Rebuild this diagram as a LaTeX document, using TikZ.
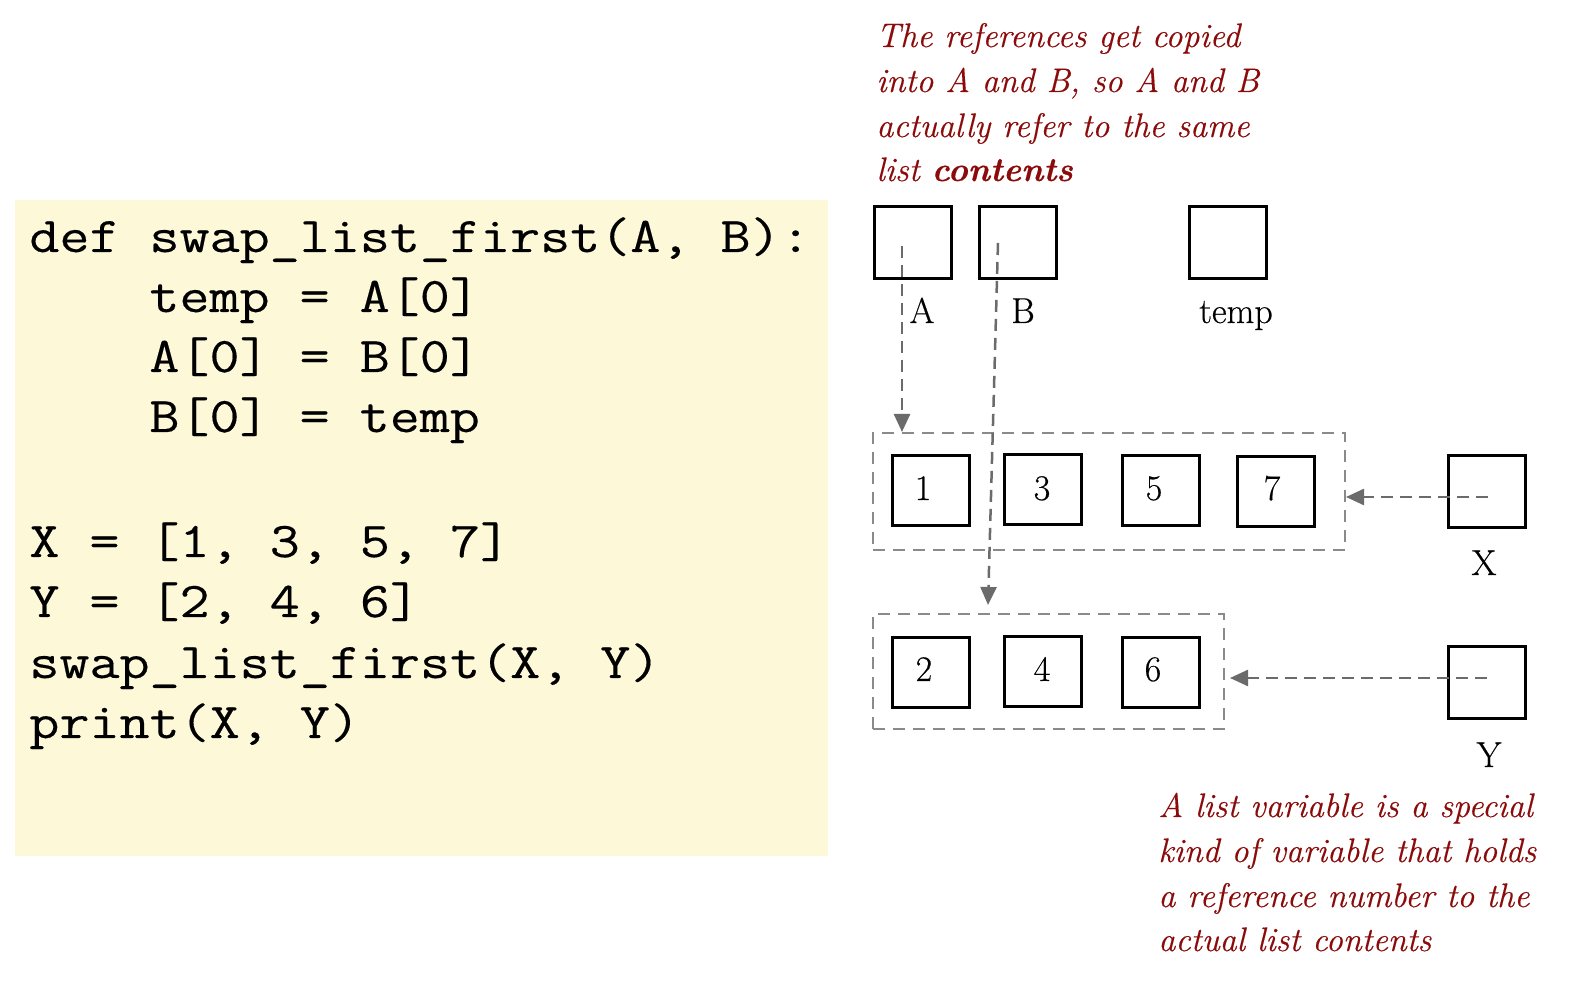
\documentclass[tikz,border=0pt]{standalone}
\usepackage{fontspec}
\setmainfont[FakeBold=0.4]{Latin Modern Roman}
\setmonofont[FakeStretch=1.167,FakeBold=0.3]{Latin Modern Mono}
\usetikzlibrary{arrows.meta,calc}
\definecolor{codebg}{HTML}{FDF8D8}
\definecolor{note}{HTML}{8B0A0A}
\definecolor{ptr}{HTML}{6B6B6B}
\definecolor{cont}{HTML}{8A8A8A}
\begin{document}
\begin{tikzpicture}[x=0.5pt,y=-0.5pt,
  cell/.style={draw=black, line width=1.5pt, minimum width=38.5pt, minimum height=36pt, inner sep=0pt},
  rowcell/.style={cell, minimum height=35pt},
  lbl/.style={font=\fontsize{18}{20}\selectfont, inner sep=0pt, anchor=base},
  codeline/.style={font=\ttfamily\fontsize{25}{30}\selectfont, inner sep=0pt, anchor=base west},
  noteline/.style={font=\itshape\fontsize{17}{22}\selectfont, text=note, inner sep=0pt, anchor=base west},
  container/.style={draw=cont, line width=1pt, dash pattern=on 6pt off 4pt, inner sep=0pt},
  pointer/.style={draw=ptr, line width=1.25pt, dash pattern=on 6pt off 3.5pt, -{Triangle[length=9pt,width=8pt]}},
]
\useasboundingbox (0,0) rectangle (1571,989);
\fill[codebg] (15,200) rectangle (828,856);

% code
\node[codeline] (c1) at (29,252) {def swap\_list\_first(A, B):};
\node[codeline] (c2) at (149,312) {temp = A[0]};
\node[codeline] (c3) at (149,372) {A[0] = B[0]};
\node[codeline] (c4) at (149,432) {B[0] = temp};
\node[codeline] (c5) at (29,557) {X = [1, 3, 5, 7]};
\node[codeline] (c6) at (29,617) {Y = [2, 4, 6]};
\node[codeline] (c7) at (29,678) {swap\_list\_first(X, Y)};
\node[codeline] (c8) at (29,738) {print(X, Y)};

% notes
\node[noteline] (t1) at (876,47) {The references get copied};
\node[noteline] (t2) at (876,92) {into A and B, so A and B};
\node[noteline] (t3) at (876,137) {actually refer to the same};
\node[noteline] (t4) at (876,181) {list {\bfseries contents}};
\node[noteline] (b1) at (1158,817) {A list variable is a special};
\node[noteline] (b2) at (1158,862) {kind of variable that holds};
\node[noteline] (b3) at (1158,907) {a reference number to the};
\node[noteline] (b4) at (1158,951) {actual list contents};

% containers
\node[container, minimum width=236pt, minimum height=58.5pt] (LX) at (1109,491.5) {};
\node[container, minimum width=175.5pt, minimum height=57.5pt] (LY) at (1048.5,671.5) {};

% variable cells
\node[cell] (A) at (913,242.5) {};
\node[cell] (B) at (1018,242.5) {};
\node[cell] (T) at (1228,242.5) {};
\node[cell] (X) at (1486.5,491.5) {};
\node[cell] (Y) at (1486.5,682.5) {};
\node[lbl] (lA) at (922,323) {A};
\node[lbl] (lB) at (1023,323) {B};
\node[lbl] (lT) at (1236,323) {temp};
\node[lbl] (lX) at (1484,575) {X};
\node[lbl] (lY) at (1489,767) {Y};

% list cells
\node[rowcell] (x1) at (931,491) {};
\node[rowcell] (x3) at (1043,490) {};
\node[rowcell] (x5) at (1161,491) {};
\node[rowcell] (x7) at (1276,492) {};
\node[rowcell] (y2) at (931,672.5) {};
\node[rowcell] (y4) at (1043,672) {};
\node[rowcell] (y6) at (1161,672.5) {};
\node[lbl] (n1) at (923,500) {1};
\node[lbl] (n3) at (1042,500) {3};
\node[lbl] (n5) at (1154,500) {5};
\node[lbl] (n7) at (1272,500) {7};
\node[lbl] (n2) at (924,681) {2};
\node[lbl] (n4) at (1042,681) {4};
\node[lbl] (n6) at (1153,681) {6};

% pointers
\coordinate (As) at (902,246);
\coordinate (Bs) at (998,243);
\coordinate (Be) at (988,605);
\coordinate (Xs) at (1488,497);
\coordinate (Ys) at (1487,678);
\draw[pointer] (As) -- (As |- LX.north);
\draw[pointer] (Bs) -- (Be);
\draw[pointer] (Xs) -- (Xs -| LX.east);
\draw[pointer] (Ys) -- ($(Ys -| LY.east)+(5,0)$);
\end{tikzpicture}
\end{document}
